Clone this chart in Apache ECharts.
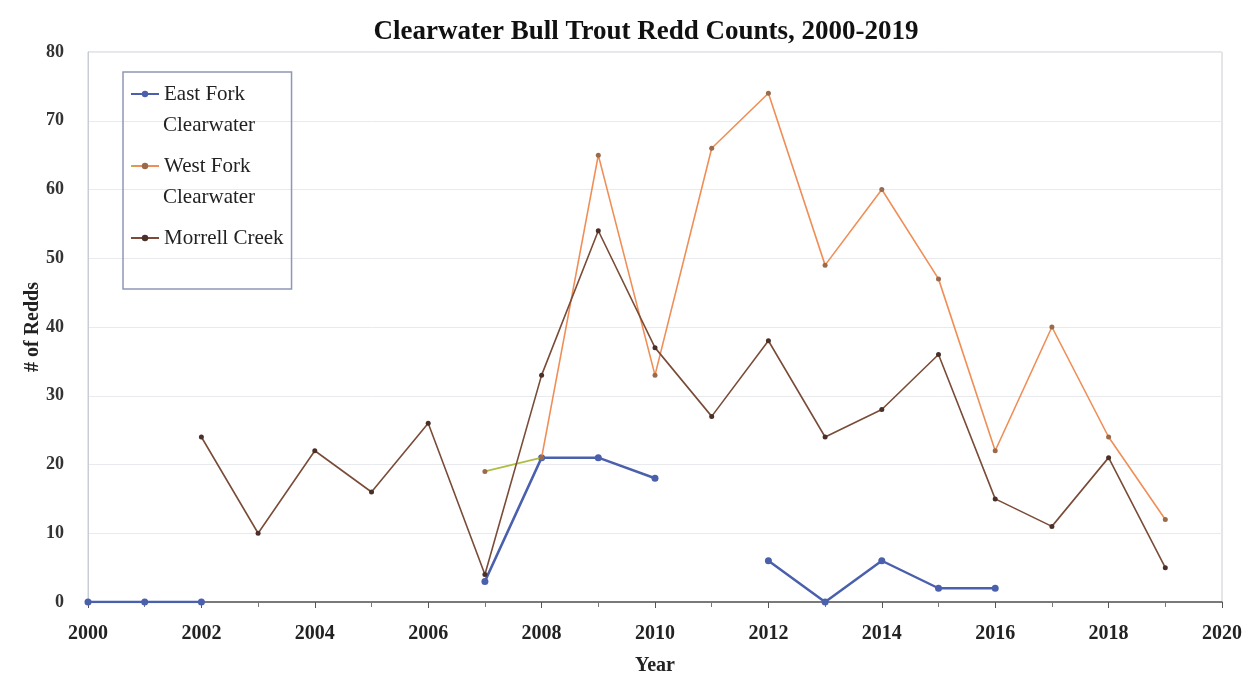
<!DOCTYPE html>
<html>
<head>
<meta charset="utf-8">
<script src="https://cdn.jsdelivr.net/npm/echarts@6/dist/echarts.min.js"></script>
<style>
  html, body { margin: 0; padding: 0; background: #fff; }
  #chart { width: 1254px; height: 687px; }
</style>
</head>
<body>
<div id="chart"></div>
<script>
// Survey years and redd counts per stream (null = not surveyed)
const years = [2000, 2001, 2002, 2003, 2004, 2005, 2006, 2007, 2008, 2009,
               2010, 2011, 2012, 2013, 2014, 2015, 2016, 2017, 2018, 2019];
const eastFork = [0, 0, 0, null, null, null, null, 3, 21, 21,
                  18, null, 6, 0, 6, 2, 2, null, null, null];
const westFork = [null, null, null, null, null, null, null, 19, 21, 65,
                  33, 66, 74, 49, 60, 47, 22, 40, 24, 12];
const morrell = [null, null, 24, 10, 22, 16, 26, 4, 33, 54,
                 37, 27, 38, 24, 28, 36, 15, 11, 21, 5];
const seriesNames = ['East Fork Clearwater', 'West Fork Clearwater', 'Morrell Creek'];
// first legend line per series; the second line is drawn beneath it
const legendFirstLine = ['East Fork', 'West Fork', 'Morrell Creek'];
const legendSecondLine = ['Clearwater', 'Clearwater', ''];

const pairs = vals => years.map((y, i) => [y, vals[i]]);
const serif = '"Liberation Serif", "DejaVu Serif", serif';

// West Fork: first surveyed segment in olive, the rest in orange
const wfFirst = years.findIndex((y, i) => westFork[i] !== null);
const wfSpan = years[years.length - 1] - years[wfFirst];
const wfSplit = (years[wfFirst + 1] - years[wfFirst]) / wfSpan;
const westForkStroke = new echarts.graphic.LinearGradient(0, 0, 1, 0, [
  { offset: 0, color: '#b0bd45' },
  { offset: wfSplit, color: '#b0bd45' },
  { offset: wfSplit + 0.001, color: '#ef8e56' },
  { offset: 1, color: '#ef8e56' }
]);

const legendLeft = 123, legendTop = 72, firstIcon = 94, itemStep = 72;
const legendTextX = legendLeft + 7 + 28 + 5;

const chart = echarts.init(document.getElementById('chart'));
chart.setOption({
  backgroundColor: '#ffffff',
  animation: false,
  title: {
    text: 'Clearwater Bull Trout Redd Counts, 2000-2019',
    left: 641, top: 14, textAlign: 'center',
    textStyle: { fontFamily: serif, fontSize: 27, fontWeight: 'bold', color: '#111' }
  },
  grid: { left: 88, right: 32, top: 52, bottom: 85, show: true, borderColor: '#c8ccd4', borderWidth: 1 },
  legend: {
    orient: 'vertical', left: legendLeft, top: legendTop,
    padding: [firstIcon - legendTop - 12, 8, 39, 7], itemGap: itemStep - 24,
    borderColor: '#8f97b6', borderWidth: 1.5,
    itemWidth: 28, itemHeight: 8,
    data: seriesNames,
    formatter: name => legendFirstLine[seriesNames.indexOf(name)],
    textStyle: { fontFamily: serif, fontSize: 21, color: '#222', lineHeight: 24 }
  },
  graphic: legendSecondLine.map((t, i) => ({
    type: 'text', left: legendTextX, top: firstIcon + i * itemStep + 33 - 12, z: 100,
    style: { text: t, font: '21px ' + serif, fill: '#222' }
  })).filter(g => g.style.text),
  xAxis: {
    type: 'value', min: 2000, max: 2020, interval: 2,
    name: 'Year', nameLocation: 'middle', nameGap: 54,
    nameTextStyle: { fontFamily: serif, fontSize: 20, fontWeight: 'bold', color: '#222' },
    axisLine: { lineStyle: { color: '#555', width: 1.5 } },
    axisTick: { show: true, length: 6, lineStyle: { color: '#555' } },
    minorTick: { show: true, splitNumber: 2, length: 5, lineStyle: { color: '#777' } },
    axisLabel: { fontFamily: serif, fontSize: 20, fontWeight: 'bold', color: '#222', margin: 22,
                 formatter: v => String(v) },
    splitLine: { show: false }
  },
  yAxis: {
    type: 'value', min: 0, max: 80, interval: 10,
    name: '# of Redds', nameLocation: 'middle', nameGap: 45, nameMoveOverlap: false,
    nameTextStyle: { fontFamily: serif, fontSize: 20, fontWeight: 'bold', color: '#222' },
    axisLine: { show: true, lineStyle: { color: '#c8ccd4' } },
    axisTick: { show: false },
    axisLabel: { fontFamily: serif, fontSize: 18, fontWeight: 'bold', color: '#333', margin: 24 },
    splitLine: { lineStyle: { color: '#e8eaee', width: 1 } }
  },
  series: [
    {
      name: seriesNames[0], type: 'line', data: pairs(eastFork), connectNulls: false,
      symbol: 'circle', symbolSize: 7, z: 3,
      lineStyle: { color: '#4a60ad', width: 2.5 },
      itemStyle: { color: '#4a60ad' }
    },
    {
      name: seriesNames[1], type: 'line', data: pairs(westFork), connectNulls: false,
      symbol: 'circle', symbolSize: 5, z: 4,
      lineStyle: { color: westForkStroke, width: 1.6 },
      itemStyle: { color: '#9a6a4a', borderWidth: 0 }
    },
    {
      name: seriesNames[2], type: 'line', data: pairs(morrell), connectNulls: false,
      symbol: 'circle', symbolSize: 5, z: 5,
      lineStyle: { color: '#7a4c38', width: 1.6 },
      itemStyle: { color: '#4a3028' }
    }
  ]
});
</script>
</body>
</html>
